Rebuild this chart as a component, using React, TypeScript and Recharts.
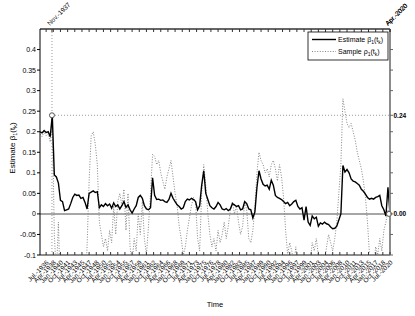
import { LineChart, Line, XAxis, YAxis, ReferenceLine, ReferenceDot } from "recharts"

// half-year grid starting at 1935.0
const START_YEAR = 1935
const STEP = 0.5

const estimate = [
  0.2, 0.197, 0.203, 0.198, 0.2, 0.188, 0.24, 0.095, 0.09, 0.075,
  0.033, 0.03, 0.008, 0.01, 0.012, 0.025, 0.04, 0.048, 0.045, 0.046,
  0.038, 0.04, 0.028, 0.012, 0.05, 0.053, 0.056, 0.052, 0.054, 0.015,
  0.022, 0.018, 0.025, 0.02, 0.024, 0.014, 0.027, 0.018, 0.022, 0.012,
  0.02, 0.03, 0.016, 0.022, 0.01, 0.002, 0.012, 0.02, 0.04, 0.045,
  0.038, 0.02, 0.012, 0.01, 0.015, 0.088, 0.045, 0.035, 0.036, 0.033,
  0.034, 0.03, 0.028, 0.035, 0.05, 0.038, 0.03, 0.022, 0.018, 0.012,
  0.015, 0.03, 0.036, 0.034, 0.038, 0.035, 0.03, 0.01, 0.02, 0.07,
  0.105, 0.05, 0.035, 0.02, 0.015, 0.012, 0.018, 0.028, 0.022, 0.012,
  0.01, 0.013, 0.008, 0.012, 0.025, 0.022, 0.018, 0.02, 0.01, 0.012,
  0.03, 0.025, 0.012, 0.01, -0.01, 0.005, 0.065, 0.105, 0.085, 0.072,
  0.068, 0.07, 0.06, 0.082, 0.07, 0.045, 0.04, 0.038, 0.035, 0.03,
  0.025, 0.028, 0.02, 0.024, 0.03, 0.033, 0.018, 0.012, 0.015, -0.015,
  0.018, -0.02, -0.028, -0.005, -0.012, -0.008, -0.03, -0.022, -0.025, -0.02,
  -0.024, -0.026, -0.032, -0.036, -0.035, -0.03, -0.015, 0.0, 0.118, 0.102,
  0.108, 0.1, 0.085, 0.08, 0.078, 0.074, 0.07, 0.06, 0.055, 0.048,
  0.04, 0.036, 0.038, 0.036, 0.04, 0.042, 0.045, 0.02, 0.01, -0.005,
  0.065, 0.0,
]

const sample = [
  0.195, 0.188, 0.2, 0.19, 0.195, 0.175, 0.24, -0.05, -0.15, -0.02,
  -0.2, -0.15, -0.25, -0.3, -0.22, -0.18, -0.25, -0.2, -0.28, -0.15,
  -0.2, -0.12, -0.18, -0.08, 0.08, 0.19, 0.2, 0.17, 0.12, -0.02,
  -0.05, -0.08, -0.06, -0.09, -0.04, -0.07, 0.02, -0.05, 0.03, 0.05,
  0.02, 0.06, -0.04, 0.05, -0.08, -0.12, -0.06, -0.09, 0.0, -0.05,
  0.03, -0.06, -0.1, -0.03, 0.05, 0.145, 0.14, 0.12, 0.13, 0.1,
  0.08, 0.06, 0.09, 0.11, 0.13, 0.09, 0.05, 0.02, -0.03, -0.06,
  -0.1, -0.08, -0.04, -0.01, 0.02, 0.04, 0.03, -0.06, -0.09, 0.05,
  0.12, 0.07, 0.0, -0.05, -0.08, -0.06, -0.09, -0.04, -0.07, -0.05,
  -0.02, -0.06, -0.03, 0.01, 0.03, 0.0, 0.02, -0.02, -0.05, -0.03,
  0.03, 0.01, -0.06, -0.07, -0.04, 0.02, 0.1, 0.15, 0.13, 0.12,
  0.1, 0.11, 0.09, 0.12, 0.13, 0.11, 0.08, 0.12, 0.09, 0.04,
  -0.04, -0.1, -0.07, -0.09, -0.12, -0.08, -0.15, -0.2, -0.18, -0.25,
  -0.2, -0.15, -0.12, -0.07, -0.09, -0.06, -0.1, -0.13, -0.16, -0.12,
  -0.08, -0.05, -0.07, -0.09, -0.06, -0.02, 0.05, 0.12, 0.28, 0.25,
  0.22, 0.21, 0.22, 0.2, 0.18, 0.15, 0.13, 0.11, 0.08, 0.04,
  -0.02, -0.1, -0.15, -0.12, -0.08, -0.1, -0.06, -0.09, -0.04, -0.02,
  0.01, -0.01,
]

const xTickLabels = [
  "Jul.-1936", "Apr.-1938", "Jan.-1940", "Oct.-1941", "Jul.-1943", "Apr.-1945", "Jan.-1947",
  "Oct.-1948", "Jul.-1950", "Apr.-1952", "Jan.-1954", "Oct.-1955", "Jul.-1957", "Apr.-1959",
  "Jan.-1961", "Oct.-1962", "Jul.-1964", "Apr.-1966", "Jan.-1968", "Oct.-1969", "Jul.-1971",
  "Apr.-1973", "Jan.-1975", "Oct.-1976", "Jul.-1978", "Apr.-1980", "Jan.-1982", "Oct.-1983",
  "Jul.-1985", "Apr.-1987", "Jan.-1989", "Oct.-1990", "Jul.-1992", "Apr.-1994", "Jan.-1996",
  "Oct.-1997", "Jul.-1999", "Apr.-2001", "Jan.-2003", "Oct.-2004", "Jul.-2006", "Apr.-2008",
  "Jan.-2010", "Oct.-2011", "Jul.-2013", "Apr.-2015", "Jan.-2017", "Oct.-2018", "Jul.-2020",
]

const yTicks = [0.4, 0.35, 0.3, 0.25, 0.2, 0.15, 0.1, 0.05, 0, -0.05, -0.1]
const yTickLabels = ["0.4", "0.35", "0.3", "0.25", "0.2", "0.15", "0.1", "0.05", "0", "-0.05", "-0.1"]
const rightTicks = [0.4, 0.35, 0.3, 0.24, 0.2, 0.15, 0.1, 0.05, 0, -0.05, -0.1]
const rightTickLabels = ["", "", "", "0.24", "", "", "", "", "0.00", "", ""]

// marked dates on the top axis
const eventYears = [1937.92, 2020.5]
const eventLabels = ["Nov.-1937", "Apr.-2020"]
const peakValue = 0.24
const endValue = 0

const X_MIN = 1935
const X_MAX = 2020.5
const FONT = "'Liberation Sans', Arial, sans-serif"

const MONTHS = ["Jan", "Feb", "Mar", "Apr", "May", "Jun", "Jul", "Aug", "Sep", "Oct", "Nov", "Dec"]
const labelToYear = (s: string) => {
  const [m, y] = s.split(".-")
  return Number(y) + MONTHS.indexOf(m) / 12
}
const xTicks = xTickLabels.map(labelToYear)

const data = estimate.map((v, i) => ({ t: START_YEAR + i * STEP, est: v, smp: sample[i] }))

const BottomTick = (props: any) => {
  const { x, y, index } = props
  const tx = x + 3
  const ty = y + 8
  return (
    <g>
      <line x1={x} x2={x} y1={y} y2={y - 3} stroke="#333" />
      <text x={tx} y={ty} transform={`rotate(-45 ${tx} ${ty})`} textAnchor="end" fontSize={6.5} fontFamily={FONT} fill="#000">
        {xTickLabels[index]}
      </text>
    </g>
  )
}

const TopTick = (props: any) => {
  const { x, y, payload } = props
  const k = eventYears.indexOf(payload.value)
  const tx = x - 2
  const ty = y - 3
  return (
    <g>
      <line x1={x} x2={x} y1={y} y2={y + 3} stroke="#333" />
      {k >= 0 && (
        <text x={tx} y={ty} transform={`rotate(-45 ${tx} ${ty})`} fontSize={6.5} fontFamily={FONT} fill="#000">
          {eventLabels[k]}
        </text>
      )}
    </g>
  )
}

const LeftTick = (props: any) => {
  const { x, y, index } = props
  return (
    <g>
      <line x1={x - 3} x2={x} y1={y} y2={y} stroke="#000" />
      <text x={x - 4} y={y + 2.5} textAnchor="end" fontSize={7} fontFamily={FONT} fill="#000">
        {yTickLabels[index]}
      </text>
    </g>
  )
}

const RightTick = (props: any) => {
  const { x, y, index } = props
  return (
    <g>
      <line x1={x} x2={x + 3} y1={y} y2={y} stroke="#666" />
      <text x={x + 3.5} y={y + 2.5} fontSize={6.5} fontWeight="bold" fontFamily={FONT} fill="#000">
        {rightTickLabels[index]}
      </text>
    </g>
  )
}

export default function App() {
  return (
    <div style={{ position: "absolute", left: 0, top: 0, width: 415, height: 316, background: "#fff" }}>
      <LineChart width={415} height={316} data={data} margin={{ top: 7, right: 3, bottom: 11, left: 10 }}>
        <XAxis
          dataKey="t"
          type="number"
          domain={[X_MIN, X_MAX]}
          allowDataOverflow
          ticks={xTicks}
          interval={0}
          height={50}
          tickSize={0}
          tickMargin={0}
          tickLine={false}
          axisLine={{ stroke: "#8c8c8c", strokeWidth: 2 }}
          tick={<BottomTick />}
        />
        <XAxis
          xAxisId="top"
          dataKey="t"
          orientation="top"
          type="number"
          domain={[X_MIN, X_MAX]}
          allowDataOverflow
          ticks={[...xTicks, ...eventYears]}
          interval={0}
          height={22}
          tickSize={0}
          tickMargin={0}
          tickLine={false}
          axisLine={{ stroke: "#666", strokeWidth: 2 }}
          tick={<TopTick />}
        />
        <YAxis
          type="number"
          domain={[-0.1, 0.45]}
          allowDataOverflow
          ticks={yTicks}
          interval={0}
          width={30}
          tickSize={0}
          tickMargin={0}
          tickLine={false}
          axisLine={{ stroke: "#000", strokeWidth: 1 }}
          tick={<LeftTick />}
        />
        <YAxis
          yAxisId="right"
          orientation="right"
          type="number"
          domain={[-0.1, 0.45]}
          allowDataOverflow
          ticks={rightTicks}
          interval={0}
          width={22}
          tickSize={0}
          tickMargin={0}
          tickLine={false}
          axisLine={{ stroke: "#8c8c8c", strokeWidth: 2 }}
          tick={<RightTick />}
        />
        <ReferenceLine y={0} stroke="#a6a6a6" strokeWidth={2} />
        <ReferenceLine x={eventYears[0]} stroke="#999" strokeDasharray="1 2" />
        <ReferenceLine
          segment={[
            { x: eventYears[0], y: peakValue },
            { x: X_MAX, y: peakValue },
          ]}
          stroke="#999"
          strokeDasharray="1 2"
        />
        {/* invisible series that binds the top and right axes */}
        <Line
          xAxisId="top"
          yAxisId="right"
          dataKey="est"
          stroke="none"
          dot={false}
          activeDot={false}
          legendType="none"
          isAnimationActive={false}
        />
        <Line
          dataKey="smp"
          type="linear"
          stroke="#777"
          strokeWidth={0.9}
          strokeDasharray="1 1.6"
          dot={false}
          isAnimationActive={false}
        />
        <Line dataKey="est" type="linear" stroke="#000" strokeWidth={1.4} dot={false} isAnimationActive={false} />
        <ReferenceDot x={eventYears[0]} y={peakValue} r={2.5} fill="#fff" stroke="#555" />
        <ReferenceDot x={2020.25} y={endValue} r={2.5} fill="#fff" stroke="#555" />
      </LineChart>
      <svg width={415} height={316} style={{ position: "absolute", left: 0, top: 0, pointerEvents: "none" }}>
        <text transform="translate(15,148) rotate(-90)" textAnchor="middle" fontSize={8} fontFamily={FONT} fill="#000">
          Estimate β<tspan dy={2} fontSize={5.5}>1</tspan>
          <tspan dy={-2}>(t</tspan>
          <tspan dy={2} fontSize={5.5}>k</tspan>
          <tspan dy={-2}>)</tspan>
        </text>
        <text x={215} y={307} textAnchor="middle" fontSize={7.5} fontFamily={FONT} fill="#000">
          Time
        </text>
        <rect x={308} y={32} width={80} height={28} fill="#fff" stroke="#000" strokeWidth={0.8} />
        <line x1={312} x2={336} y1={39.5} y2={39.5} stroke="#000" strokeWidth={1.4} />
        <text x={338} y={42} fontSize={7} fontFamily={FONT} fill="#000">
          Estimate β<tspan dy={1.5} fontSize={5}>1</tspan>
          <tspan dy={-1.5}>(t</tspan>
          <tspan dy={1.5} fontSize={5}>k</tspan>
          <tspan dy={-1.5}>)</tspan>
        </text>
        <line x1={312} x2={336} y1={51.5} y2={51.5} stroke="#777" strokeWidth={0.9} strokeDasharray="1 1.6" />
        <text x={338} y={54} fontSize={7} fontFamily={FONT} fill="#000">
          Sample ρ<tspan dy={1.5} fontSize={5}>1</tspan>
          <tspan dy={-1.5}>(t</tspan>
          <tspan dy={1.5} fontSize={5}>k</tspan>
          <tspan dy={-1.5}>)</tspan>
        </text>
      </svg>
    </div>
  )
}
